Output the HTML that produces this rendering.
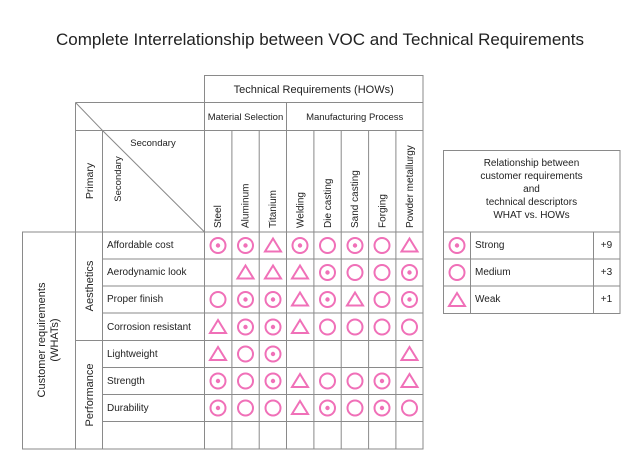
<!DOCTYPE html>
<html><head><meta charset="utf-8"><style>
html,body{margin:0;padding:0;background:#fff;}
svg{display:block;font-family:"Liberation Sans","DejaVu Sans",sans-serif;}
text{fill:#222;font-size:10px;}
</style></head><body>
<svg width="640" height="476" viewBox="0 0 640 476">
<defs>
<g id="S"><circle r="7.5" fill="none" stroke="#f070b8" stroke-width="2"/><circle r="2.2" fill="#f070b8"/></g>
<g id="M"><circle r="7.5" fill="none" stroke="#f070b8" stroke-width="2"/></g>
<g id="W"><polygon points="0,-7 8,6 -8,6" fill="none" stroke="#f070b8" stroke-width="2" stroke-linejoin="miter"/></g>
</defs>
<text x="320" y="45" text-anchor="middle" style="font-size:17px">Complete Interrelationship between VOC and Technical Requirements</text>

<g stroke="#8a8a8a" stroke-width="1" fill="none">
<!-- header -->
<rect x="204.5" y="75.5" width="218.5" height="27"/>
<line x1="75.5" y1="102.5" x2="423" y2="102.5"/>
<line x1="75.5" y1="130.5" x2="423" y2="130.5"/>
<line x1="75.5" y1="102.5" x2="75.5" y2="449"/>
<line x1="102.5" y1="130.5" x2="102.5" y2="449"/>
<line x1="286.5" y1="102.5" x2="286.5" y2="130.5"/>
<line x1="75.5" y1="102.5" x2="102.5" y2="130.5"/>
<line x1="102.5" y1="130.5" x2="204.5" y2="232"/>
<line x1="204.5" y1="102.5" x2="204.5" y2="449"/>
<line x1="423" y1="75.5" x2="423" y2="449"/>
<line x1="231.9" y1="130.5" x2="231.9" y2="449"/>
<line x1="259.2" y1="130.5" x2="259.2" y2="449"/>
<line x1="286.5" y1="130.5" x2="286.5" y2="449"/>
<line x1="313.9" y1="130.5" x2="313.9" y2="449"/>
<line x1="341.2" y1="130.5" x2="341.2" y2="449"/>
<line x1="368.6" y1="130.5" x2="368.6" y2="449"/>
<line x1="395.9" y1="130.5" x2="395.9" y2="449"/>
<!-- body -->
<rect x="22.5" y="232" width="400.5" height="217"/>
<line x1="75.5" y1="232" x2="75.5" y2="449"/>
<line x1="102.5" y1="259" x2="423" y2="259"/>
<line x1="102.5" y1="286" x2="423" y2="286"/>
<line x1="102.5" y1="313" x2="423" y2="313"/>
<line x1="75.5" y1="340.5" x2="423" y2="340.5"/>
<line x1="102.5" y1="367.5" x2="423" y2="367.5"/>
<line x1="102.5" y1="394.5" x2="423" y2="394.5"/>
<line x1="102.5" y1="421.5" x2="423" y2="421.5"/>
<!-- legend -->
<rect x="443.5" y="150.5" width="176.5" height="163"/>
<line x1="443.5" y1="232" x2="620" y2="232"/>
<line x1="443.5" y1="259" x2="620" y2="259"/>
<line x1="443.5" y1="286" x2="620" y2="286"/>
<line x1="470.5" y1="232" x2="470.5" y2="313.5"/>
<line x1="593.5" y1="232" x2="593.5" y2="313.5"/>
</g>

<text x="313.7" y="93" text-anchor="middle" style="font-size:11px">Technical Requirements (HOWs)</text>
<text x="245.5" y="120" text-anchor="middle" style="font-size:9.5px">Material Selection</text>
<text x="354.7" y="120" text-anchor="middle" style="font-size:9.5px">Manufacturing Process</text>
<text x="153" y="146" text-anchor="middle" style="font-size:9.5px">Secondary</text>
<text transform="translate(93,181) rotate(-90)" text-anchor="middle" style="font-size:10.5px">Primary</text>
<text transform="translate(121,179) rotate(-90)" text-anchor="middle" style="font-size:9.5px">Secondary</text>
<g style="font-size:9.5px">
<text transform="translate(221,228) rotate(-90)">Steel</text>
<text transform="translate(248.5,228) rotate(-90)">Aluminum</text>
<text transform="translate(276,228) rotate(-90)">Titanium</text>
<text transform="translate(303.5,228) rotate(-90)">Welding</text>
<text transform="translate(331,228) rotate(-90)">Die casting</text>
<text transform="translate(358,228) rotate(-90)">Sand casting</text>
<text transform="translate(385.5,228) rotate(-90)">Forging</text>
<text transform="translate(413,228) rotate(-90)">Powder metallurgy</text>
</g>
<text transform="translate(45,340) rotate(-90)" text-anchor="middle" style="font-size:11px">Customer requirements</text>
<text transform="translate(58,340) rotate(-90)" text-anchor="middle" style="font-size:11px">(WHATs)</text>
<text transform="translate(93,286) rotate(-90)" text-anchor="middle" style="font-size:11px">Aesthetics</text>
<text transform="translate(93,395) rotate(-90)" text-anchor="middle" style="font-size:11px">Performance</text>
<g style="font-size:9.5px">
<text x="107" y="248">Affordable cost</text>
<text x="107" y="275">Aerodynamic look</text>
<text x="107" y="302">Proper finish</text>
<text x="107" y="330">Corrosion resistant</text>
<text x="107" y="357">Lightweight</text>
<text x="107" y="384">Strength</text>
<text x="107" y="411">Durability</text>
</g>
<!-- row 1 -->
<use href="#S" x="218" y="245.5"/><use href="#S" x="245.5" y="245.5"/><use href="#W" x="273" y="245.5"/><use href="#S" x="300" y="245.5"/><use href="#M" x="327.5" y="245.5"/><use href="#S" x="355" y="245.5"/><use href="#M" x="382" y="245.5"/><use href="#W" x="409.5" y="245.5"/>
<!-- row 2 -->
<use href="#W" x="245.5" y="272.5"/><use href="#W" x="273" y="272.5"/><use href="#W" x="300" y="272.5"/><use href="#S" x="327.5" y="272.5"/><use href="#M" x="355" y="272.5"/><use href="#M" x="382" y="272.5"/><use href="#S" x="409.5" y="272.5"/>
<!-- row 3 -->
<use href="#M" x="218" y="299.5"/><use href="#S" x="245.5" y="299.5"/><use href="#S" x="273" y="299.5"/><use href="#W" x="300" y="299.5"/><use href="#S" x="327.5" y="299.5"/><use href="#W" x="355" y="299.5"/><use href="#M" x="382" y="299.5"/><use href="#S" x="409.5" y="299.5"/>
<!-- row 4 -->
<use href="#W" x="218" y="327"/><use href="#S" x="245.5" y="327"/><use href="#S" x="273" y="327"/><use href="#W" x="300" y="327"/><use href="#M" x="327.5" y="327"/><use href="#M" x="355" y="327"/><use href="#M" x="382" y="327"/><use href="#M" x="409.5" y="327"/>
<!-- row 5 -->
<use href="#W" x="218" y="354"/><use href="#M" x="245.5" y="354"/><use href="#S" x="273" y="354"/><use href="#W" x="409.5" y="354"/>
<!-- row 6 -->
<use href="#S" x="218" y="381"/><use href="#M" x="245.5" y="381"/><use href="#S" x="273" y="381"/><use href="#W" x="300" y="381"/><use href="#M" x="327.5" y="381"/><use href="#M" x="355" y="381"/><use href="#S" x="382" y="381"/><use href="#W" x="409.5" y="381"/>
<!-- row 7 -->
<use href="#S" x="218" y="408"/><use href="#M" x="245.5" y="408"/><use href="#M" x="273" y="408"/><use href="#W" x="300" y="408"/><use href="#S" x="327.5" y="408"/><use href="#M" x="355" y="408"/><use href="#S" x="382" y="408"/><use href="#M" x="409.5" y="408"/>

<!-- legend text -->
<g style="font-size:10px" text-anchor="middle">
<text x="531.5" y="166">Relationship between</text>
<text x="531.5" y="179">customer requirements</text>
<text x="531.5" y="192">and</text>
<text x="531.5" y="205">technical descriptors</text>
<text x="531.5" y="218">WHAT vs. HOWs</text>
</g>
<use href="#S" x="457" y="245.5"/><use href="#M" x="457" y="272.5"/><use href="#W" x="457" y="300"/>
<g style="font-size:9.5px">
<text x="475" y="248">Strong</text>
<text x="475" y="275">Medium</text>
<text x="475" y="302">Weak</text>
<text x="606.5" y="248" text-anchor="middle">+9</text>
<text x="606.5" y="275" text-anchor="middle">+3</text>
<text x="606.5" y="302" text-anchor="middle">+1</text>
</g>
</svg>
</body></html>
